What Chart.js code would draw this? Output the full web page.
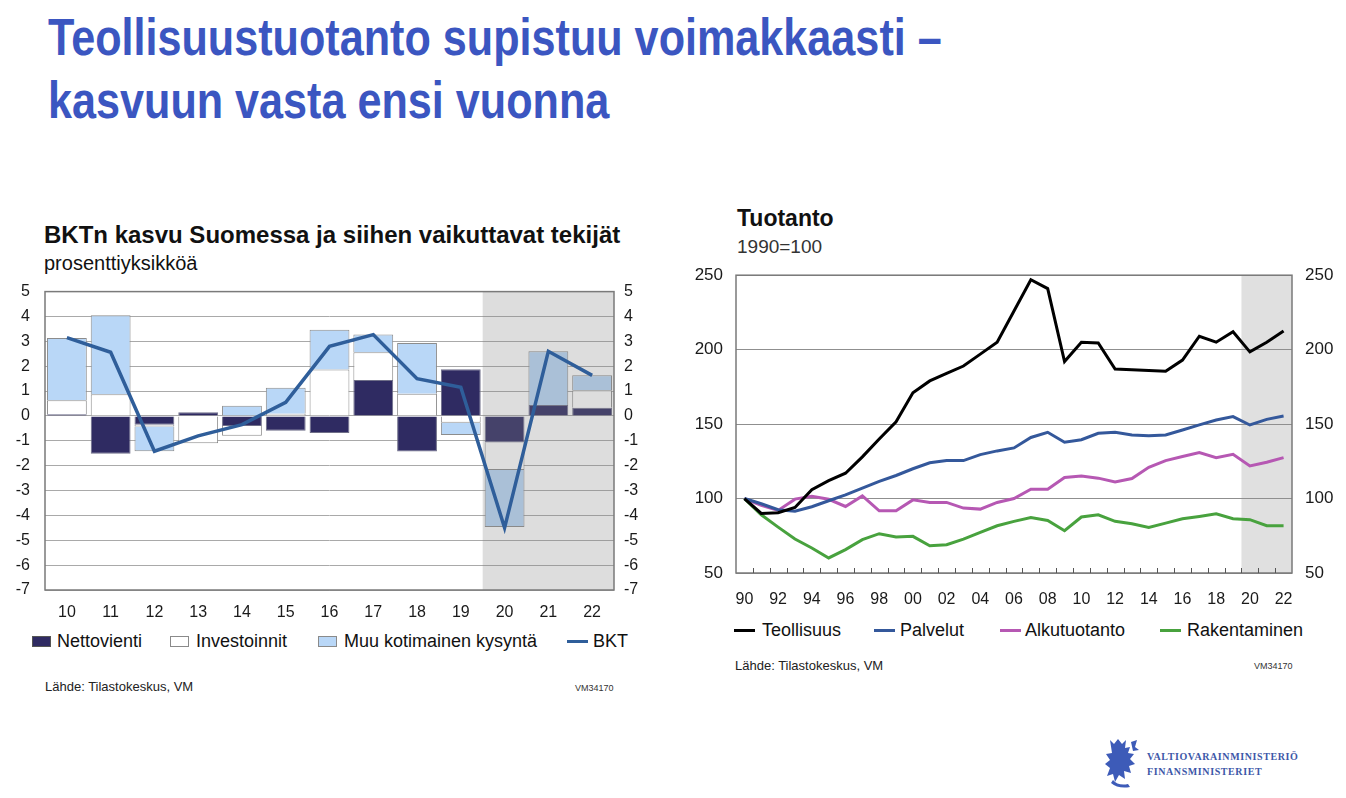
<!DOCTYPE html>
<html>
<head>
<meta charset="utf-8">
<script src="https://cdn.jsdelivr.net/npm/chart.js@4.4.0/dist/chart.umd.min.js"></script>
<style>
  body { margin:0; width:1346px; height:798px; background:#fff; position:relative; overflow:hidden;
         font-family:'Liberation Sans', Arial, sans-serif; color:#111; }
  .abs { position:absolute; white-space:nowrap; line-height:1; }
  .otsikko { left:48px; font-weight:bold; font-size:52px; color:#3b56c1; transform:scaleX(0.83); transform-origin:0 0; }
  .box { position:absolute; width:19px; height:11px; border:1px solid #8a8a8a; box-sizing:border-box; }
  .viiva { position:absolute; width:21px; height:3px; }
  canvas { position:absolute; }
</style>
</head>
<body>

<div class="abs otsikko" style="top:11px">Teollisuustuotanto supistuu voimakkaasti –</div>
<div class="abs otsikko" style="top:74px">kasvuun vasta ensi vuonna</div>

<!-- vasen kuvio -->
<div class="abs" style="left:44px;top:223px;font-size:24px;font-weight:bold">BKTn kasvu Suomessa ja siihen vaikuttavat tekijät</div>
<div class="abs" style="left:44px;top:253px;font-size:20px">prosenttiyksikköä</div>
<canvas id="chartL" width="660" height="363" style="left:0;top:267px"></canvas>

<div class="box" style="left:32px;top:636px;background:#2f2b62;border-color:#555"></div>
<div class="abs" style="left:57px;top:632px;font-size:18px">Nettovienti</div>
<div class="box" style="left:170px;top:636px;background:#fff"></div>
<div class="abs" style="left:196px;top:632px;font-size:18px">Investoinnit</div>
<div class="box" style="left:318px;top:636px;background:#b9d7f7"></div>
<div class="abs" style="left:344px;top:632px;font-size:18px">Muu kotimainen kysyntä</div>
<div class="viiva" style="left:567px;top:640px;background:#2f5e9a"></div>
<div class="abs" style="left:593px;top:632px;font-size:18px">BKT</div>

<div class="abs" style="left:45px;top:680px;font-size:13px;color:#222">Lähde: Tilastokeskus, VM</div>
<div class="abs" style="left:575px;top:684px;font-size:9px;color:#333">VM34170</div>

<!-- oikea kuvio -->
<div class="abs" style="left:737px;top:207px;font-size:23px;font-weight:bold">Tuotanto</div>
<div class="abs" style="left:737px;top:237px;font-size:19px;color:#333">1990=100</div>
<canvas id="chartR" width="666" height="363" style="left:680px;top:252px"></canvas>

<div class="viiva" style="left:734px;top:629px;background:#000"></div>
<div class="abs" style="left:762px;top:621px;font-size:18px">Teollisuus</div>
<div class="viiva" style="left:874px;top:629px;background:#34589b"></div>
<div class="abs" style="left:900px;top:621px;font-size:18px">Palvelut</div>
<div class="viiva" style="left:1000px;top:629px;background:#b658b3"></div>
<div class="abs" style="left:1025px;top:621px;font-size:18px">Alkutuotanto</div>
<div class="viiva" style="left:1160px;top:629px;background:#48a23e"></div>
<div class="abs" style="left:1187px;top:621px;font-size:18px">Rakentaminen</div>

<div class="abs" style="left:735px;top:659px;font-size:13px;color:#222">Lähde: Tilastokeskus, VM</div>
<div class="abs" style="left:1254px;top:662px;font-size:9px;color:#333">VM34170</div>

<!-- logo -->
<svg class="abs" style="left:1104px;top:738px" width="36" height="50" viewBox="0 0 36 50">
  <g fill="#3d5bb8">
    <path d="M6 2 L10 6 L14 1 L18 6 L22 2 L21 10 L26 9 L24 15 L30 16 L26 21 L31 26 L25 28 L27 35 L20 33 L21 41 L15 37 L11 44 L9 36 L3 38 L6 30 L1 26 L6 22 L2 16 L8 15 Z"/>
    <path d="M9 42 Q14 48 24 46 L26 49 Q14 51 7 45 Z"/>
    <path d="M27 4 L33 2 L31 9 L35 12 L29 13 Z"/>
  </g>
</svg>
<div class="abs" style="left:1147px;top:751px;font:bold 10px 'Liberation Serif', serif;letter-spacing:0.6px;color:#3d57a8">VALTIOVARAINMINISTERIÖ</div>
<div class="abs" style="left:1147px;top:766px;font:bold 10px 'Liberation Serif', serif;letter-spacing:0.6px;color:#3d57a8">FINANSMINISTERIET</div>

<script>
// BKTn kasvu ja siihen vaikuttavat tekijät, prosenttiyksikköä
const vuodetL = ['10', '11', '12', '13', '14', '15', '16', '17', '18', '19', '20', '21', '22'];
const nettovienti = [0.07, -1.52, -0.35, 0.15, -0.4, -0.6, -0.69, 1.45, -1.43, 1.88, -1.07, 0.44, 0.33];
const investoinnit = [0.56, 0.87, -0.07, -1.1, -0.4, 0.09, 1.87, 1.11, 0.89, -0.27, -1.1, 0, 0.7];
const muuKysynta = [2.5, 3.18, -1.0, 0, 0.41, 1.04, 1.6, 0.71, 2.04, -0.5, -2.3, 2.16, 0.61];
const bkt = [3.15, 2.56, -1.42, -0.8, -0.35, 0.55, 2.8, 3.27, 1.5, 1.15, -4.5, 2.6, 1.63];
const ennusteL = '20';

// Tuotanto, 1990=100
const vuodetR = ['90', '91', '92', '93', '94', '95', '96', '97', '98', '99',
                 '00', '01', '02', '03', '04', '05', '06', '07', '08', '09',
                 '10', '11', '12', '13', '14', '15', '16', '17', '18', '19',
                 '20', '21', '22'];
const teollisuus = [100, 90, 90.5, 94, 106, 112, 117, 128, 140, 151.5,
                    171, 179, 184, 189, 197, 205, 226, 247, 241, 192,
                    205, 204.5, 187, 186.5, 186, 185.5, 193, 209, 205, 212,
                    198.5, 205, 212.5];
const palvelut = [100, 96.5, 92.5, 91.5, 94.5, 98.5, 102.5, 107, 111.5, 115.5,
                  120, 124, 125.5, 125.5, 129.5, 132, 134, 141, 144.5, 137.8,
                  139.5, 143.8, 144.5, 142.7, 142.2, 142.7, 146, 149.5, 152.7, 155,
                  149.4, 153.2, 155.4];
const alkutuotanto = [100, 95.5, 92, 99.6, 101.5, 99.5, 94.7, 101.8, 91.8, 91.8,
                      99.1, 97.4, 97.4, 93.6, 92.9, 97.4, 100, 106.3, 106.3, 114.1,
                      115.2, 113.7, 111.2, 113.4, 121, 125.5, 128.2, 130.9, 127.5, 129.7,
                      121.9, 124.4, 127.5];
const rakentaminen = [100, 89.1, 80.8, 72.8, 66.8, 60.1, 65.7, 72.4, 76.4, 74.2,
                      74.6, 68.3, 69, 72.8, 77.3, 81.7, 84.7, 87.3, 85.3, 78.4,
                      87.6, 89.1, 84.7, 83.1, 80.6, 83.5, 86.4, 88, 89.8, 86.4,
                      85.8, 81.8, 81.8];
const ennusteR = '20';

Chart.defaults.font.family = "'Liberation Sans', Arial, sans-serif";
Chart.defaults.color = '#1a1a1a';
Chart.defaults.animation = false;

// raja kahden kategorian välissä (ennusteen alku)
function rajaX(chart, label) {
  const x = chart.scales.x;
  const i = x.getLabels().indexOf(label);
  return (x.getPixelForValue(i - 1) + x.getPixelForValue(i)) / 2;
}

// kehys kuvioalueen ympäri
const kehys = {
  id: 'kehys',
  afterDraw(chart) {
    const a = chart.chartArea;
    const ctx = chart.ctx;
    ctx.save();
    ctx.strokeStyle = '#7a7a7a';
    ctx.lineWidth = 1.5;
    ctx.strokeRect(a.left, a.top, a.right - a.left, a.bottom - a.top);
    ctx.restore();
  }
};

// vasemmalla harmaa ennustealue pylväiden päällä, viivan alla
const varjoL = {
  id: 'varjoL',
  beforeDatasetDraw(chart, args) {
    if (args.meta.type !== 'line') return;
    const a = chart.chartArea;
    const x0 = rajaX(chart, ennusteL);
    const ctx = chart.ctx;
    ctx.save();
    ctx.fillStyle = 'rgba(130,130,130,0.27)';
    ctx.fillRect(x0, a.top, a.right - x0, a.bottom - a.top);
    ctx.restore();
  }
};

// oikealla harmaa ennustealue taustalla
const varjoR = {
  id: 'varjoR',
  beforeDraw(chart) {
    const a = chart.chartArea;
    const x0 = rajaX(chart, ennusteR);
    const ctx = chart.ctx;
    ctx.save();
    ctx.fillStyle = '#e0e0e0';
    ctx.fillRect(x0, a.top, a.right - x0, a.bottom - a.top);
    ctx.restore();
  }
};

// pienet sisäänpäin osoittavat tikit vuosien välissä
const sisaTikit = {
  id: 'sisaTikit',
  afterDraw(chart) {
    const x = chart.scales.x;
    const a = chart.chartArea;
    const ctx = chart.ctx;
    ctx.save();
    ctx.strokeStyle = '#555';
    ctx.lineWidth = 1;
    for (let i = 1; i < x.getLabels().length; i++) {
      const px = Math.round((x.getPixelForValue(i - 1) + x.getPixelForValue(i)) / 2) + 0.5;
      ctx.beginPath();
      ctx.moveTo(px, a.bottom);
      ctx.lineTo(px, a.bottom - 5);
      ctx.stroke();
    }
    ctx.restore();
  }
};

new Chart(document.getElementById('chartL'), {
  type: 'bar',
  data: {
    labels: vuodetL,
    datasets: [
      { type: 'line', label: 'BKT', data: bkt, stack: 'bkt', borderColor: '#2f5e9a', borderWidth: 3.5,
        pointRadius: 0, tension: 0 },
      { label: 'Nettovienti', data: nettovienti, backgroundColor: '#2f2b62', borderColor: '#6f6f88', borderWidth: 1 },
      { label: 'Investoinnit', data: investoinnit, backgroundColor: '#ffffff', borderColor: '#8c8c8c', borderWidth: 1 },
      { label: 'Muu kotimainen kysyntä', data: muuKysynta, backgroundColor: '#b9d7f7', borderColor: '#8c8c8c', borderWidth: 1 }
    ]
  },
  options: {
    responsive: false,
    animation: false,
    layout: { padding: { top: 20 } },
    datasets: { bar: { barPercentage: 0.91, categoryPercentage: 1 } },
    plugins: { legend: { display: false }, tooltip: { enabled: false } },
    scales: {
      x: {
        stacked: true,
        grid: { display: false },
        border: { display: false },
        ticks: { font: { size: 16 }, padding: 5, maxRotation: 0 },
        afterFit: (s) => { s.height = 40; }
      },
      y: {
        stacked: true,
        min: -7,
        max: 5,
        ticks: { stepSize: 1, font: { size: 16 }, padding: 15 },
        grid: { color: '#a9a9a9', drawTicks: false },
        border: { display: false },
        afterFit: (s) => { s.width = 45; }
      },
      y2: {
        position: 'right',
        min: -7,
        max: 5,
        ticks: { stepSize: 1, font: { size: 16 }, padding: 10 },
        grid: { display: false, drawTicks: false },
        border: { display: false },
        afterFit: (s) => { s.width = 46; }
      }
    }
  },
  plugins: [varjoL, kehys]
});

new Chart(document.getElementById('chartR'), {
  type: 'line',
  data: {
    labels: vuodetR,
    datasets: [
      { label: 'Teollisuus', data: teollisuus, borderColor: '#000000' },
      { label: 'Palvelut', data: palvelut, borderColor: '#34589b' },
      { label: 'Alkutuotanto', data: alkutuotanto, borderColor: '#b658b3' },
      { label: 'Rakentaminen', data: rakentaminen, borderColor: '#48a23e' }
    ]
  },
  options: {
    responsive: false,
    animation: false,
    layout: { padding: { top: 20 } },
    elements: { line: { borderWidth: 3, tension: 0 }, point: { radius: 0 } },
    plugins: { legend: { display: false }, tooltip: { enabled: false } },
    scales: {
      x: {
        offset: true,
        grid: { display: false },
        border: { display: false },
        ticks: {
          autoSkip: false,
          maxRotation: 0,
          font: { size: 16 },
          padding: 9,
          callback: (v, i) => (i % 2 === 0 ? vuodetR[i] : '')
        },
        afterFit: (s) => { s.height = 42; }
      },
      y: {
        min: 50,
        max: 250,
        ticks: { stepSize: 50, font: { size: 17 }, padding: 13 },
        grid: { color: '#8f8f8f', drawTicks: false },
        border: { display: false },
        afterFit: (s) => { s.width = 56; }
      },
      y2: {
        position: 'right',
        min: 50,
        max: 250,
        ticks: { stepSize: 50, font: { size: 17 }, padding: 13 },
        grid: { display: false, drawTicks: false },
        border: { display: false },
        afterFit: (s) => { s.width = 54; }
      }
    }
  },
  plugins: [varjoR, kehys, sisaTikit]
});
</script>
</body>
</html>
